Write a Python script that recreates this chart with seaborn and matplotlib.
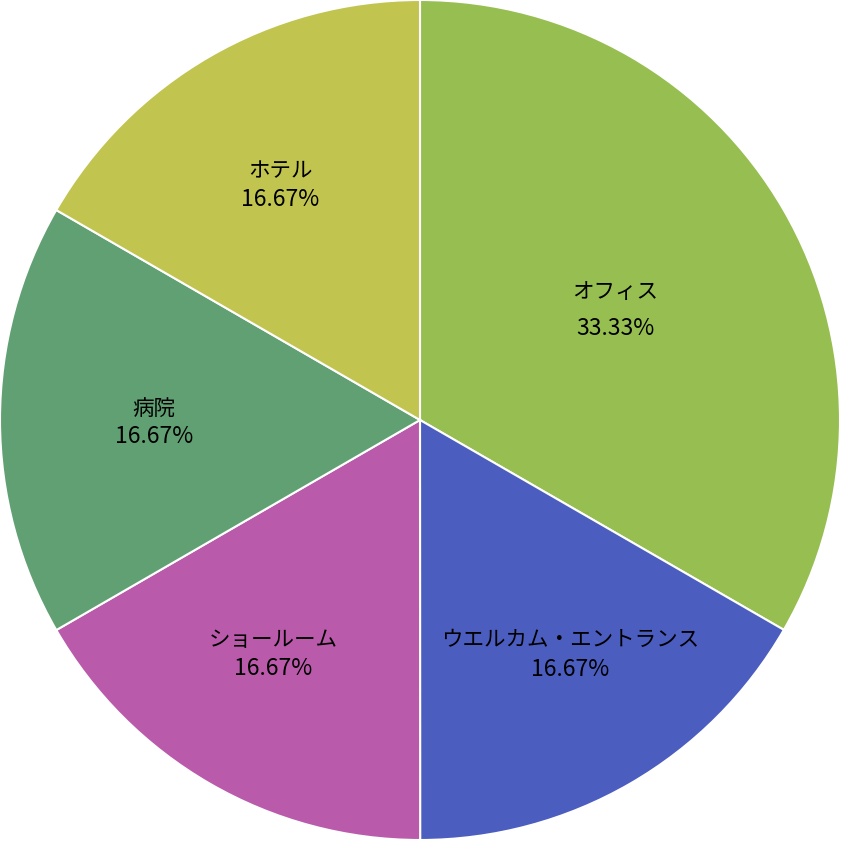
import matplotlib
matplotlib.use("Agg")
import matplotlib.pyplot as plt
import seaborn as sns
import numpy as np

categories = ["オフィス", "ウエルカム・エントランス", "ショールーム", "病院", "ホテル"]
values = [33.33, 16.67, 16.67, 16.67, 16.67]
pct_labels = ["33.33%", "16.67%", "16.67%", "16.67%", "16.67%"]
colors = ["#96BE51", "#4B5DBF", "#BA5AAB", "#61A073", "#C1C44F"]

sns.set_theme(style="white")
plt.rcParams["font.family"] = ["Noto Sans CJK JP", "DejaVu Sans"]

fig = plt.figure(figsize=(8.42, 8.41), dpi=100)
ax = fig.add_axes([0, 0, 1, 1])
wedges, _ = ax.pie(values, colors=colors, startangle=90, counterclock=False,
                   radius=1.0, wedgeprops=dict(edgecolor="white", linewidth=1.5))
ax.set_xlim(-1.0, 842 / 420 - 1.0)
ax.set_ylim(1.0 - 841 / 420, 1.0)
ax.set_aspect("equal")
ax.axis("off")

# label layout: radial distance, angular nudge (deg), half line gap (pt)
dists = [0.533, 0.664, 0.658, 0.633, 0.651]
nudges = [-0.6, 2.6, -2.1, 0.6, 0.8]
gaps = [13.0, 10.5, 10.5, 10.0, 10.3]
for w, name, pct, d, nd, g in zip(wedges, categories, pct_labels, dists, nudges, gaps):
    mid = np.deg2rad((w.theta1 + w.theta2) / 2 + nd)
    xy = (d * np.cos(mid), d * np.sin(mid))
    ax.annotate(name, xy=xy, xytext=(0, g), textcoords="offset points",
                ha="center", va="center", fontsize=15.5, color="black")
    ax.annotate(pct, xy=xy, xytext=(0, -g), textcoords="offset points",
                ha="center", va="center", fontsize=16.5, color="black")

fig.savefig("out.png", dpi=100, facecolor="white")
